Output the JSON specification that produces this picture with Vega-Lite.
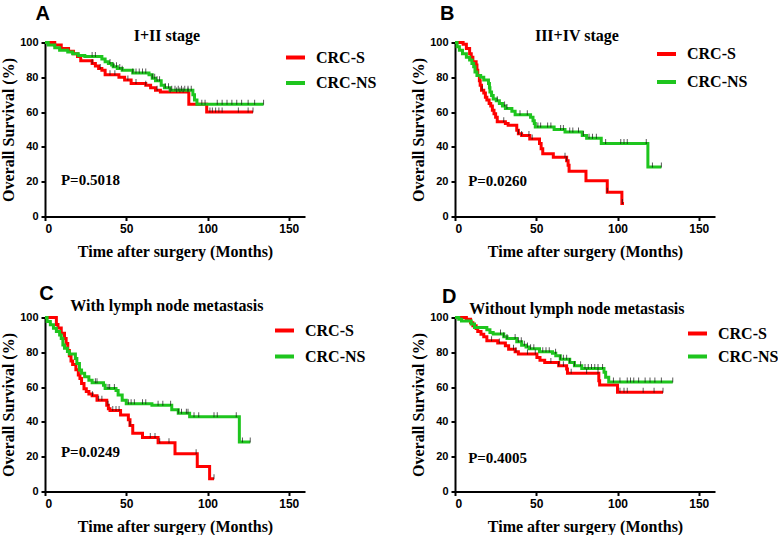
{
  "$schema": "https://vega.github.io/schema/vega-lite/v6.json",
  "padding": {"left": 0, "top": 3.5, "right": 0, "bottom": 0},
  "background": "white",
  "datasets": {
    "km": [
      {"p":"A","g":"CRC-S","t":0,"s":100},{"p":"A","g":"CRC-S","t":6,"s":98.5},{"p":"A","g":"CRC-S","t":10,"s":96.5},{"p":"A","g":"CRC-S","t":14.5,"s":95},{"p":"A","g":"CRC-S","t":17.5,"s":93.5},{"p":"A","g":"CRC-S","t":20,"s":92},{"p":"A","g":"CRC-S","t":22,"s":89.5},{"p":"A","g":"CRC-S","t":29,"s":88},{"p":"A","g":"CRC-S","t":31,"s":86.5},{"p":"A","g":"CRC-S","t":33,"s":85},{"p":"A","g":"CRC-S","t":35,"s":84},{"p":"A","g":"CRC-S","t":37,"s":81.5},{"p":"A","g":"CRC-S","t":45.5,"s":80},{"p":"A","g":"CRC-S","t":49,"s":78.5},{"p":"A","g":"CRC-S","t":53,"s":76.5},{"p":"A","g":"CRC-S","t":62,"s":75.5},{"p":"A","g":"CRC-S","t":65,"s":74},{"p":"A","g":"CRC-S","t":68,"s":72.5},{"p":"A","g":"CRC-S","t":71,"s":71.5},{"p":"A","g":"CRC-S","t":88.5,"s":64.5},{"p":"A","g":"CRC-S","t":99.5,"s":60},{"p":"A","g":"CRC-S","t":128,"s":60},
      {"p":"A","g":"CRC-NS","t":0,"s":100},{"p":"A","g":"CRC-NS","t":2,"s":98.5},{"p":"A","g":"CRC-NS","t":6,"s":97},{"p":"A","g":"CRC-NS","t":9,"s":95.5},{"p":"A","g":"CRC-NS","t":14,"s":94.5},{"p":"A","g":"CRC-NS","t":17,"s":93.5},{"p":"A","g":"CRC-NS","t":20.5,"s":92.5},{"p":"A","g":"CRC-NS","t":24.5,"s":92},{"p":"A","g":"CRC-NS","t":35,"s":90.5},{"p":"A","g":"CRC-NS","t":37,"s":89},{"p":"A","g":"CRC-NS","t":39,"s":88},{"p":"A","g":"CRC-NS","t":41,"s":87},{"p":"A","g":"CRC-NS","t":42,"s":86},{"p":"A","g":"CRC-NS","t":44.5,"s":85},{"p":"A","g":"CRC-NS","t":47.5,"s":84},{"p":"A","g":"CRC-NS","t":54,"s":82.5},{"p":"A","g":"CRC-NS","t":64,"s":81.5},{"p":"A","g":"CRC-NS","t":66,"s":79.5},{"p":"A","g":"CRC-NS","t":68,"s":78},{"p":"A","g":"CRC-NS","t":71.5,"s":75.5},{"p":"A","g":"CRC-NS","t":73.5,"s":74},{"p":"A","g":"CRC-NS","t":77,"s":72.5},{"p":"A","g":"CRC-NS","t":91,"s":70},{"p":"A","g":"CRC-NS","t":92,"s":67},{"p":"A","g":"CRC-NS","t":93.5,"s":64.5},{"p":"A","g":"CRC-NS","t":134.5,"s":64.5},
      {"p":"B","g":"CRC-S","t":0,"s":100},{"p":"B","g":"CRC-S","t":5,"s":99},{"p":"B","g":"CRC-S","t":7,"s":96.5},{"p":"B","g":"CRC-S","t":9,"s":93.5},{"p":"B","g":"CRC-S","t":10,"s":91.5},{"p":"B","g":"CRC-S","t":11,"s":89},{"p":"B","g":"CRC-S","t":13,"s":87},{"p":"B","g":"CRC-S","t":13.5,"s":84},{"p":"B","g":"CRC-S","t":14,"s":81},{"p":"B","g":"CRC-S","t":15,"s":78},{"p":"B","g":"CRC-S","t":15.5,"s":75.5},{"p":"B","g":"CRC-S","t":16.3,"s":72.5},{"p":"B","g":"CRC-S","t":17.7,"s":71},{"p":"B","g":"CRC-S","t":18.7,"s":68.5},{"p":"B","g":"CRC-S","t":19.6,"s":67},{"p":"B","g":"CRC-S","t":21,"s":65},{"p":"B","g":"CRC-S","t":22,"s":63.5},{"p":"B","g":"CRC-S","t":23,"s":61},{"p":"B","g":"CRC-S","t":24,"s":59},{"p":"B","g":"CRC-S","t":25,"s":57},{"p":"B","g":"CRC-S","t":26,"s":54.5},{"p":"B","g":"CRC-S","t":31,"s":53.5},{"p":"B","g":"CRC-S","t":32.7,"s":52.5},{"p":"B","g":"CRC-S","t":38,"s":49.5},{"p":"B","g":"CRC-S","t":39,"s":47.5},{"p":"B","g":"CRC-S","t":41,"s":46.5},{"p":"B","g":"CRC-S","t":46,"s":44.5},{"p":"B","g":"CRC-S","t":52,"s":42},{"p":"B","g":"CRC-S","t":53,"s":39},{"p":"B","g":"CRC-S","t":54,"s":36},{"p":"B","g":"CRC-S","t":60.5,"s":34},{"p":"B","g":"CRC-S","t":68.7,"s":32},{"p":"B","g":"CRC-S","t":69.6,"s":29.5},{"p":"B","g":"CRC-S","t":70.2,"s":26},{"p":"B","g":"CRC-S","t":80.6,"s":20.5},{"p":"B","g":"CRC-S","t":93.7,"s":14},{"p":"B","g":"CRC-S","t":102.7,"s":7.5},{"p":"B","g":"CRC-S","t":104,"s":7.5},
      {"p":"B","g":"CRC-NS","t":0,"s":100},{"p":"B","g":"CRC-NS","t":1.3,"s":97.5},{"p":"B","g":"CRC-NS","t":2.7,"s":95.5},{"p":"B","g":"CRC-NS","t":4.6,"s":93.5},{"p":"B","g":"CRC-NS","t":7,"s":91.5},{"p":"B","g":"CRC-NS","t":9,"s":90},{"p":"B","g":"CRC-NS","t":10.4,"s":88},{"p":"B","g":"CRC-NS","t":11.5,"s":86},{"p":"B","g":"CRC-NS","t":12.3,"s":83},{"p":"B","g":"CRC-NS","t":13.5,"s":81},{"p":"B","g":"CRC-NS","t":15.8,"s":80},{"p":"B","g":"CRC-NS","t":17.7,"s":78.5},{"p":"B","g":"CRC-NS","t":20.6,"s":76.5},{"p":"B","g":"CRC-NS","t":21.2,"s":74},{"p":"B","g":"CRC-NS","t":21.5,"s":71.5},{"p":"B","g":"CRC-NS","t":22.5,"s":69.5},{"p":"B","g":"CRC-NS","t":23.5,"s":67.5},{"p":"B","g":"CRC-NS","t":25.4,"s":66.5},{"p":"B","g":"CRC-NS","t":27.3,"s":65},{"p":"B","g":"CRC-NS","t":29.2,"s":63.5},{"p":"B","g":"CRC-NS","t":31,"s":62},{"p":"B","g":"CRC-NS","t":35,"s":60.5},{"p":"B","g":"CRC-NS","t":37,"s":58.5},{"p":"B","g":"CRC-NS","t":46.5,"s":57},{"p":"B","g":"CRC-NS","t":48,"s":55},{"p":"B","g":"CRC-NS","t":48.8,"s":53.5},{"p":"B","g":"CRC-NS","t":49.4,"s":51.5},{"p":"B","g":"CRC-NS","t":61,"s":50},{"p":"B","g":"CRC-NS","t":67.7,"s":48.5},{"p":"B","g":"CRC-NS","t":78.3,"s":46.5},{"p":"B","g":"CRC-NS","t":81,"s":45},{"p":"B","g":"CRC-NS","t":90,"s":42},{"p":"B","g":"CRC-NS","t":118.7,"s":28.5},{"p":"B","g":"CRC-NS","t":127,"s":28.5},
      {"p":"C","g":"CRC-S","t":0,"s":100},{"p":"C","g":"CRC-S","t":7,"s":96},{"p":"C","g":"CRC-S","t":8,"s":94},{"p":"C","g":"CRC-S","t":10,"s":91},{"p":"C","g":"CRC-S","t":12,"s":88},{"p":"C","g":"CRC-S","t":13,"s":85},{"p":"C","g":"CRC-S","t":14,"s":81},{"p":"C","g":"CRC-S","t":15,"s":78},{"p":"C","g":"CRC-S","t":16,"s":75},{"p":"C","g":"CRC-S","t":17,"s":73},{"p":"C","g":"CRC-S","t":19,"s":70},{"p":"C","g":"CRC-S","t":20.5,"s":67},{"p":"C","g":"CRC-S","t":21.5,"s":65},{"p":"C","g":"CRC-S","t":22.5,"s":62},{"p":"C","g":"CRC-S","t":24,"s":59},{"p":"C","g":"CRC-S","t":25.4,"s":57.5},{"p":"C","g":"CRC-S","t":27,"s":56},{"p":"C","g":"CRC-S","t":29,"s":55},{"p":"C","g":"CRC-S","t":32,"s":52.5},{"p":"C","g":"CRC-S","t":38,"s":49.5},{"p":"C","g":"CRC-S","t":39,"s":47.5},{"p":"C","g":"CRC-S","t":40,"s":46.5},{"p":"C","g":"CRC-S","t":46.5,"s":44},{"p":"C","g":"CRC-S","t":51.3,"s":41.3},{"p":"C","g":"CRC-S","t":52.3,"s":38},{"p":"C","g":"CRC-S","t":54,"s":33.5},{"p":"C","g":"CRC-S","t":60,"s":31},{"p":"C","g":"CRC-S","t":69.6,"s":28},{"p":"C","g":"CRC-S","t":80,"s":21.7},{"p":"C","g":"CRC-S","t":93.7,"s":14.4},{"p":"C","g":"CRC-S","t":101.3,"s":7.3},{"p":"C","g":"CRC-S","t":104,"s":7.3},
      {"p":"C","g":"CRC-NS","t":0,"s":100},{"p":"C","g":"CRC-NS","t":1.3,"s":97.7},{"p":"C","g":"CRC-NS","t":3.3,"s":95.8},{"p":"C","g":"CRC-NS","t":5.2,"s":93.8},{"p":"C","g":"CRC-NS","t":7,"s":92},{"p":"C","g":"CRC-NS","t":9,"s":90},{"p":"C","g":"CRC-NS","t":10,"s":88},{"p":"C","g":"CRC-NS","t":11,"s":84.2},{"p":"C","g":"CRC-NS","t":12,"s":82.3},{"p":"C","g":"CRC-NS","t":13.8,"s":80.4},{"p":"C","g":"CRC-NS","t":15,"s":79},{"p":"C","g":"CRC-NS","t":18.7,"s":76.5},{"p":"C","g":"CRC-NS","t":19.6,"s":73.6},{"p":"C","g":"CRC-NS","t":21.2,"s":69.8},{"p":"C","g":"CRC-NS","t":22.5,"s":68},{"p":"C","g":"CRC-NS","t":24.4,"s":66},{"p":"C","g":"CRC-NS","t":27,"s":64},{"p":"C","g":"CRC-NS","t":29,"s":62.5},{"p":"C","g":"CRC-NS","t":36,"s":61},{"p":"C","g":"CRC-NS","t":37,"s":59.2},{"p":"C","g":"CRC-NS","t":43.7,"s":58},{"p":"C","g":"CRC-NS","t":45,"s":55.5},{"p":"C","g":"CRC-NS","t":47.5,"s":52.5},{"p":"C","g":"CRC-NS","t":50,"s":50.5},{"p":"C","g":"CRC-NS","t":65.8,"s":49.5},{"p":"C","g":"CRC-NS","t":78,"s":47},{"p":"C","g":"CRC-NS","t":82,"s":45},{"p":"C","g":"CRC-NS","t":89,"s":43},{"p":"C","g":"CRC-NS","t":119.6,"s":28.5},{"p":"C","g":"CRC-NS","t":126.3,"s":28.5},
      {"p":"D","g":"CRC-S","t":0,"s":100},{"p":"D","g":"CRC-S","t":7,"s":99},{"p":"D","g":"CRC-S","t":9.6,"s":97},{"p":"D","g":"CRC-S","t":11,"s":95.2},{"p":"D","g":"CRC-S","t":13,"s":93.7},{"p":"D","g":"CRC-S","t":14,"s":92},{"p":"D","g":"CRC-S","t":16,"s":90.4},{"p":"D","g":"CRC-S","t":17.7,"s":89},{"p":"D","g":"CRC-S","t":19.6,"s":86.6},{"p":"D","g":"CRC-S","t":26.3,"s":85.3},{"p":"D","g":"CRC-S","t":31,"s":83.7},{"p":"D","g":"CRC-S","t":33,"s":81.8},{"p":"D","g":"CRC-S","t":37,"s":80.3},{"p":"D","g":"CRC-S","t":39,"s":79},{"p":"D","g":"CRC-S","t":50.4,"s":77},{"p":"D","g":"CRC-S","t":52.3,"s":75.5},{"p":"D","g":"CRC-S","t":55.2,"s":74.2},{"p":"D","g":"CRC-S","t":63.8,"s":72.3},{"p":"D","g":"CRC-S","t":68.7,"s":70.4},{"p":"D","g":"CRC-S","t":69.2,"s":68},{"p":"D","g":"CRC-S","t":88.5,"s":63.7},{"p":"D","g":"CRC-S","t":89,"s":61.2},{"p":"D","g":"CRC-S","t":100,"s":57},{"p":"D","g":"CRC-S","t":128,"s":57},
      {"p":"D","g":"CRC-NS","t":0,"s":100},{"p":"D","g":"CRC-NS","t":2.3,"s":99},{"p":"D","g":"CRC-NS","t":4,"s":98},{"p":"D","g":"CRC-NS","t":10,"s":96.2},{"p":"D","g":"CRC-NS","t":12,"s":94.3},{"p":"D","g":"CRC-NS","t":19.6,"s":93},{"p":"D","g":"CRC-NS","t":21.5,"s":91.4},{"p":"D","g":"CRC-NS","t":23.5,"s":90.5},{"p":"D","g":"CRC-NS","t":30,"s":89},{"p":"D","g":"CRC-NS","t":32,"s":88},{"p":"D","g":"CRC-NS","t":38,"s":86},{"p":"D","g":"CRC-NS","t":41,"s":84},{"p":"D","g":"CRC-NS","t":43.7,"s":83},{"p":"D","g":"CRC-NS","t":45.6,"s":82},{"p":"D","g":"CRC-NS","t":52,"s":80.3},{"p":"D","g":"CRC-NS","t":60,"s":79.5},{"p":"D","g":"CRC-NS","t":62,"s":78},{"p":"D","g":"CRC-NS","t":64.8,"s":76},{"p":"D","g":"CRC-NS","t":70.6,"s":74.2},{"p":"D","g":"CRC-NS","t":73.5,"s":72.3},{"p":"D","g":"CRC-NS","t":78,"s":70.7},{"p":"D","g":"CRC-NS","t":91.7,"s":68.5},{"p":"D","g":"CRC-NS","t":92.7,"s":65.6},{"p":"D","g":"CRC-NS","t":94.6,"s":63},{"p":"D","g":"CRC-NS","t":134,"s":63}
    ],
    "cens": [
      {"p":"A","t":29,"s":88},{"p":"A","t":34,"s":85},{"p":"A","t":40,"s":81.5},{"p":"A","t":43,"s":81.5},{"p":"A","t":51,"s":78.5},{"p":"A","t":56,"s":76.5},{"p":"A","t":62,"s":75.5},{"p":"A","t":69,"s":72.5},{"p":"A","t":77,"s":71.5},{"p":"A","t":81,"s":71.5},{"p":"A","t":83,"s":71.5},{"p":"A","t":85,"s":71.5},{"p":"A","t":88,"s":71.5},{"p":"A","t":101.5,"s":60},{"p":"A","t":103,"s":60},{"p":"A","t":105,"s":60},{"p":"A","t":107,"s":60},{"p":"A","t":109,"s":60},{"p":"A","t":119,"s":60},{"p":"A","t":125,"s":60},{"p":"A","t":128,"s":60},
      {"p":"A","t":29,"s":92},{"p":"A","t":31,"s":92},{"p":"A","t":40,"s":88},{"p":"A","t":42,"s":86},{"p":"A","t":44,"s":86},{"p":"A","t":46,"s":85},{"p":"A","t":47.5,"s":84},{"p":"A","t":54,"s":82.5},{"p":"A","t":56,"s":82.5},{"p":"A","t":58,"s":82.5},{"p":"A","t":60,"s":82.5},{"p":"A","t":62,"s":82.5},{"p":"A","t":66,"s":79.5},{"p":"A","t":67.5,"s":79.5},{"p":"A","t":69,"s":78},{"p":"A","t":70.5,"s":78},{"p":"A","t":74,"s":74},{"p":"A","t":76,"s":74},{"p":"A","t":78,"s":72.5},{"p":"A","t":80,"s":72.5},{"p":"A","t":82,"s":72.5},{"p":"A","t":84,"s":72.5},{"p":"A","t":86,"s":72.5},{"p":"A","t":88,"s":72.5},{"p":"A","t":90,"s":72.5},{"p":"A","t":96.5,"s":64.5},{"p":"A","t":98.5,"s":64.5},{"p":"A","t":106,"s":64.5},{"p":"A","t":109,"s":64.5},{"p":"A","t":112,"s":64.5},{"p":"A","t":115,"s":64.5},{"p":"A","t":118,"s":64.5},{"p":"A","t":121,"s":64.5},{"p":"A","t":125,"s":64.5},{"p":"A","t":129,"s":64.5},{"p":"A","t":134.5,"s":64.5},
      {"p":"B","t":16.7,"s":72.5},{"p":"B","t":30,"s":54.5},{"p":"B","t":39,"s":47.5},{"p":"B","t":41,"s":46.5},{"p":"B","t":45.5,"s":46.5},{"p":"B","t":47.5,"s":44.5},{"p":"B","t":67.7,"s":34},{"p":"B","t":68.7,"s":32},{"p":"B","t":93.7,"s":14},{"p":"B","t":103,"s":7.5},
      {"p":"B","t":26,"s":66.5},{"p":"B","t":30.5,"s":63.5},{"p":"B","t":32,"s":62},{"p":"B","t":40,"s":58.5},{"p":"B","t":44.5,"s":58.5},{"p":"B","t":51,"s":51.5},{"p":"B","t":52.7,"s":51.5},{"p":"B","t":57,"s":51.5},{"p":"B","t":59,"s":51.5},{"p":"B","t":65,"s":50},{"p":"B","t":66.7,"s":50},{"p":"B","t":70.6,"s":48.5},{"p":"B","t":72.5,"s":48.5},{"p":"B","t":76,"s":48.5},{"p":"B","t":79,"s":46.5},{"p":"B","t":82.5,"s":45},{"p":"B","t":84.6,"s":45},{"p":"B","t":87,"s":45},{"p":"B","t":92.7,"s":42},{"p":"B","t":102,"s":42},{"p":"B","t":104,"s":42},{"p":"B","t":106,"s":42},{"p":"B","t":117.7,"s":42},{"p":"B","t":121.5,"s":28.5},{"p":"B","t":127,"s":28.5},
      {"p":"C","t":29.2,"s":55},{"p":"C","t":33,"s":52.5},{"p":"C","t":35,"s":52.5},{"p":"C","t":38.8,"s":49.5},{"p":"C","t":41.7,"s":46.5},{"p":"C","t":43.7,"s":46.5},{"p":"C","t":45.6,"s":46.5},{"p":"C","t":52.3,"s":38},{"p":"C","t":64.8,"s":31},{"p":"C","t":67.7,"s":31},{"p":"C","t":70.6,"s":28},{"p":"C","t":76.3,"s":28},{"p":"C","t":93,"s":21.7},{"p":"C","t":104,"s":7.3},
      {"p":"C","t":31,"s":62.5},{"p":"C","t":32,"s":62.5},{"p":"C","t":38.8,"s":59.2},{"p":"C","t":39.8,"s":59.2},{"p":"C","t":42.7,"s":59.2},{"p":"C","t":51.3,"s":50.5},{"p":"C","t":53,"s":50.5},{"p":"C","t":55,"s":50.5},{"p":"C","t":60,"s":50.5},{"p":"C","t":62,"s":50.5},{"p":"C","t":69.6,"s":49.5},{"p":"C","t":72.5,"s":49.5},{"p":"C","t":77.3,"s":49.5},{"p":"C","t":82,"s":45},{"p":"C","t":84,"s":45},{"p":"C","t":87,"s":45},{"p":"C","t":88,"s":45},{"p":"C","t":91.7,"s":43},{"p":"C","t":94.6,"s":43},{"p":"C","t":104,"s":43},{"p":"C","t":106,"s":43},{"p":"C","t":117.7,"s":43},{"p":"C","t":121.5,"s":28.5},{"p":"C","t":126.3,"s":28.5},
      {"p":"D","t":22.5,"s":86.6},{"p":"D","t":27.3,"s":85.3},{"p":"D","t":36,"s":81.8},{"p":"D","t":37.5,"s":80.3},{"p":"D","t":44.6,"s":79},{"p":"D","t":49.4,"s":79},{"p":"D","t":59,"s":74.2},{"p":"D","t":63.8,"s":72.3},{"p":"D","t":66.7,"s":72.3},{"p":"D","t":71.5,"s":68},{"p":"D","t":81,"s":68},{"p":"D","t":88,"s":68},{"p":"D","t":101.5,"s":57},{"p":"D","t":104,"s":57},{"p":"D","t":106,"s":57},{"p":"D","t":115.8,"s":57},{"p":"D","t":122.5,"s":57},{"p":"D","t":128,"s":57},
      {"p":"D","t":28,"s":90.5},{"p":"D","t":30,"s":89},{"p":"D","t":32,"s":88},{"p":"D","t":37,"s":88},{"p":"D","t":39,"s":86},{"p":"D","t":40.8,"s":86},{"p":"D","t":42.7,"s":84},{"p":"D","t":44.6,"s":83},{"p":"D","t":46.5,"s":82},{"p":"D","t":48.5,"s":82},{"p":"D","t":54,"s":80.3},{"p":"D","t":56,"s":80.3},{"p":"D","t":58,"s":80.3},{"p":"D","t":61.9,"s":79.5},{"p":"D","t":64.8,"s":76},{"p":"D","t":66.7,"s":76},{"p":"D","t":68.7,"s":76},{"p":"D","t":70.6,"s":74.2},{"p":"D","t":73.5,"s":72.3},{"p":"D","t":77.3,"s":72.3},{"p":"D","t":80,"s":70.7},{"p":"D","t":82,"s":70.7},{"p":"D","t":84,"s":70.7},{"p":"D","t":86,"s":70.7},{"p":"D","t":88,"s":70.7},{"p":"D","t":90.8,"s":70.7},{"p":"D","t":97.5,"s":63},{"p":"D","t":101.5,"s":63},{"p":"D","t":106,"s":63},{"p":"D","t":108,"s":63},{"p":"D","t":110,"s":63},{"p":"D","t":113,"s":63},{"p":"D","t":117,"s":63},{"p":"D","t":120,"s":63},{"p":"D","t":123,"s":63},{"p":"D","t":127,"s":63},{"p":"D","t":134,"s":63}
    ],
    "notes": [
      {"p":"A","pv":"P=0.5018","ttl":"I+II stage"},
      {"p":"B","pv":"P=0.0260","ttl":"III+IV stage"},
      {"p":"C","pv":"P=0.0249","ttl":"With lymph node metastasis"},
      {"p":"D","pv":"P=0.4005","ttl":"Without lymph node metastasis"}
    ]
  },
  "columns": 2,
  "spacing": {"row": 24, "column": 33},
  "resolve": {"scale": {"color": "independent"}, "legend": {"color": "independent"}},
  "concat": [
    {
      "width": 260, "height": 174,
      "layer": [
        {"data": {"name": "km"}, "transform": [{"filter": "datum.p == 'A'"}],
         "mark": {"type": "line", "interpolate": "step-after", "strokeWidth": 3},
         "encoding": {
           "x": {"field": "t", "type": "quantitative", "scale": {"domain": [0, 150]}, "axis": {"values": [0, 50, 100, 150], "labelOverlap": false, "title": "Time after surgery (Months)"}},
           "y": {"field": "s", "type": "quantitative", "scale": {"domain": [0, 100]}, "axis": {"values": [0, 20, 40, 60, 80, 100], "labelOverlap": false, "title": "Overall Survival (%)"}},
           "color": {"field": "g", "type": "nominal", "scale": {"domain": ["CRC-S", "CRC-NS"], "range": ["#ff0000", "#1ec51e"]}, "legend": {"orient": "none", "legendX": 239, "legendY": 3.5, "rowPadding": 5.5}}
         }},
        {"data": {"name": "cens"}, "transform": [{"filter": "datum.p == 'A'"}],
         "mark": {"type": "tick", "orient": "vertical", "color": "#111", "size": 5, "thickness": 1, "yOffset": -2},
         "encoding": {
           "x": {"field": "t", "type": "quantitative", "axis": {"values": [0, 50, 100, 150], "labelOverlap": false, "title": "Time after surgery (Months)"}},
           "y": {"field": "s", "type": "quantitative", "axis": {"values": [0, 20, 40, 60, 80, 100], "labelOverlap": false, "title": "Overall Survival (%)"}}}},
        {"data": {"name": "notes"}, "transform": [{"filter": "datum.p == 'A'"}],
         "mark": {"type": "text", "align": "left", "baseline": "alphabetic", "font": "Liberation Serif", "fontSize": 15, "fontWeight": "bold", "color": "black"},
         "encoding": {
           "x": {"datum": 9.8, "type": "quantitative", "axis": {"values": [0, 50, 100, 150], "labelOverlap": false, "title": "Time after surgery (Months)"}},
           "y": {"datum": 18.2, "type": "quantitative", "axis": {"values": [0, 20, 40, 60, 80, 100], "labelOverlap": false, "title": "Overall Survival (%)"}},
           "text": {"field": "pv"}}},
        {"data": {"name": "notes"}, "transform": [{"filter": "datum.p == 'A'"}],
         "mark": {"type": "text", "align": "center", "baseline": "alphabetic", "font": "Liberation Serif", "fontSize": 16, "fontWeight": "bold", "color": "black"},
         "encoding": {
           "x": {"datum": 75, "type": "quantitative", "axis": {"values": [0, 50, 100, 150], "labelOverlap": false, "title": "Time after surgery (Months)"}},
           "y": {"datum": 101.1, "type": "quantitative", "axis": {"values": [0, 20, 40, 60, 80, 100], "labelOverlap": false, "title": "Overall Survival (%)"}},
           "text": {"field": "ttl"}}},
        {"data": {"name": "notes"}, "transform": [{"filter": "datum.p == 'A'"}],
         "mark": {"type": "text", "align": "left", "baseline": "alphabetic", "font": "Liberation Sans", "fontSize": 20, "fontWeight": "bold", "color": "black"},
         "encoding": {
           "x": {"datum": -5.8, "type": "quantitative", "axis": {"values": [0, 50, 100, 150], "labelOverlap": false, "title": "Time after surgery (Months)"}},
           "y": {"datum": 113, "type": "quantitative", "axis": {"values": [0, 20, 40, 60, 80, 100], "labelOverlap": false, "title": "Overall Survival (%)"}},
           "text": {"field": "p"}}}
      ]
    },
    {
      "width": 260, "height": 174,
      "layer": [
        {"data": {"name": "km"}, "transform": [{"filter": "datum.p == 'B'"}],
         "mark": {"type": "line", "interpolate": "step-after", "strokeWidth": 3},
         "encoding": {
           "x": {"field": "t", "type": "quantitative", "scale": {"domain": [0, 150]}, "axis": {"values": [0, 50, 100, 150], "labelOverlap": false, "title": "Time after surgery (Months)"}},
           "y": {"field": "s", "type": "quantitative", "scale": {"domain": [0, 100]}, "axis": {"values": [0, 20, 40, 60, 80, 100], "labelOverlap": false, "title": "Overall Survival (%)"}},
           "color": {"field": "g", "type": "nominal", "scale": {"domain": ["CRC-S", "CRC-NS"], "range": ["#ff0000", "#1ec51e"]}, "legend": {"orient": "none", "legendX": 200, "legendY": 0, "rowPadding": 8}}
         }},
        {"data": {"name": "cens"}, "transform": [{"filter": "datum.p == 'B'"}],
         "mark": {"type": "tick", "orient": "vertical", "color": "#111", "size": 5, "thickness": 1, "yOffset": -2},
         "encoding": {
           "x": {"field": "t", "type": "quantitative", "axis": {"values": [0, 50, 100, 150], "labelOverlap": false, "title": "Time after surgery (Months)"}},
           "y": {"field": "s", "type": "quantitative", "axis": {"values": [0, 20, 40, 60, 80, 100], "labelOverlap": false, "title": "Overall Survival (%)"}}}},
        {"data": {"name": "notes"}, "transform": [{"filter": "datum.p == 'B'"}],
         "mark": {"type": "text", "align": "left", "baseline": "alphabetic", "font": "Liberation Serif", "fontSize": 15, "fontWeight": "bold", "color": "black"},
         "encoding": {
           "x": {"datum": 8.1, "type": "quantitative", "axis": {"values": [0, 50, 100, 150], "labelOverlap": false, "title": "Time after surgery (Months)"}},
           "y": {"datum": 17.5, "type": "quantitative", "axis": {"values": [0, 20, 40, 60, 80, 100], "labelOverlap": false, "title": "Overall Survival (%)"}},
           "text": {"field": "pv"}}},
        {"data": {"name": "notes"}, "transform": [{"filter": "datum.p == 'B'"}],
         "mark": {"type": "text", "align": "center", "baseline": "alphabetic", "font": "Liberation Serif", "fontSize": 16, "fontWeight": "bold", "color": "black"},
         "encoding": {
           "x": {"datum": 75, "type": "quantitative", "axis": {"values": [0, 50, 100, 150], "labelOverlap": false, "title": "Time after surgery (Months)"}},
           "y": {"datum": 101, "type": "quantitative", "axis": {"values": [0, 20, 40, 60, 80, 100], "labelOverlap": false, "title": "Overall Survival (%)"}},
           "text": {"field": "ttl"}}},
        {"data": {"name": "notes"}, "transform": [{"filter": "datum.p == 'B'"}],
         "mark": {"type": "text", "align": "left", "baseline": "alphabetic", "font": "Liberation Sans", "fontSize": 20, "fontWeight": "bold", "color": "black"},
         "encoding": {
           "x": {"datum": -9.2, "type": "quantitative", "axis": {"values": [0, 50, 100, 150], "labelOverlap": false, "title": "Time after surgery (Months)"}},
           "y": {"datum": 112.8, "type": "quantitative", "axis": {"values": [0, 20, 40, 60, 80, 100], "labelOverlap": false, "title": "Overall Survival (%)"}},
           "text": {"field": "p"}}}
      ]
    },
    {
      "width": 260, "height": 174,
      "layer": [
        {"data": {"name": "km"}, "transform": [{"filter": "datum.p == 'C'"}],
         "mark": {"type": "line", "interpolate": "step-after", "strokeWidth": 3},
         "encoding": {
           "x": {"field": "t", "type": "quantitative", "scale": {"domain": [0, 150]}, "axis": {"values": [0, 50, 100, 150], "labelOverlap": false, "title": "Time after surgery (Months)"}},
           "y": {"field": "s", "type": "quantitative", "scale": {"domain": [0, 100]}, "axis": {"values": [0, 20, 40, 60, 80, 100], "labelOverlap": false, "title": "Overall Survival (%)"}},
           "color": {"field": "g", "type": "nominal", "scale": {"domain": ["CRC-S", "CRC-NS"], "range": ["#ff0000", "#1ec51e"]}, "legend": {"orient": "none", "legendX": 228, "legendY": 1.5, "rowPadding": 6}}
         }},
        {"data": {"name": "cens"}, "transform": [{"filter": "datum.p == 'C'"}],
         "mark": {"type": "tick", "orient": "vertical", "color": "#111", "size": 5, "thickness": 1, "yOffset": -2},
         "encoding": {
           "x": {"field": "t", "type": "quantitative", "axis": {"values": [0, 50, 100, 150], "labelOverlap": false, "title": "Time after surgery (Months)"}},
           "y": {"field": "s", "type": "quantitative", "axis": {"values": [0, 20, 40, 60, 80, 100], "labelOverlap": false, "title": "Overall Survival (%)"}}}},
        {"data": {"name": "notes"}, "transform": [{"filter": "datum.p == 'C'"}],
         "mark": {"type": "text", "align": "left", "baseline": "alphabetic", "font": "Liberation Serif", "fontSize": 15, "fontWeight": "bold", "color": "black"},
         "encoding": {
           "x": {"datum": 9.8, "type": "quantitative", "axis": {"values": [0, 50, 100, 150], "labelOverlap": false, "title": "Time after surgery (Months)"}},
           "y": {"datum": 19.8, "type": "quantitative", "axis": {"values": [0, 20, 40, 60, 80, 100], "labelOverlap": false, "title": "Overall Survival (%)"}},
           "text": {"field": "pv"}}},
        {"data": {"name": "notes"}, "transform": [{"filter": "datum.p == 'C'"}],
         "mark": {"type": "text", "align": "center", "baseline": "alphabetic", "font": "Liberation Serif", "fontSize": 16, "fontWeight": "bold", "color": "black"},
         "encoding": {
           "x": {"datum": 75, "type": "quantitative", "axis": {"values": [0, 50, 100, 150], "labelOverlap": false, "title": "Time after surgery (Months)"}},
           "y": {"datum": 103.7, "type": "quantitative", "axis": {"values": [0, 20, 40, 60, 80, 100], "labelOverlap": false, "title": "Overall Survival (%)"}},
           "text": {"field": "ttl"}}},
        {"data": {"name": "notes"}, "transform": [{"filter": "datum.p == 'C'"}],
         "mark": {"type": "text", "align": "left", "baseline": "alphabetic", "font": "Liberation Sans", "fontSize": 20, "fontWeight": "bold", "color": "black"},
         "encoding": {
           "x": {"datum": -3.5, "type": "quantitative", "axis": {"values": [0, 50, 100, 150], "labelOverlap": false, "title": "Time after surgery (Months)"}},
           "y": {"datum": 110, "type": "quantitative", "axis": {"values": [0, 20, 40, 60, 80, 100], "labelOverlap": false, "title": "Overall Survival (%)"}},
           "text": {"field": "p"}}}
      ]
    },
    {
      "width": 260, "height": 174,
      "layer": [
        {"data": {"name": "km"}, "transform": [{"filter": "datum.p == 'D'"}],
         "mark": {"type": "line", "interpolate": "step-after", "strokeWidth": 3},
         "encoding": {
           "x": {"field": "t", "type": "quantitative", "scale": {"domain": [0, 150]}, "axis": {"values": [0, 50, 100, 150], "labelOverlap": false, "title": "Time after surgery (Months)"}},
           "y": {"field": "s", "type": "quantitative", "scale": {"domain": [0, 100]}, "axis": {"values": [0, 20, 40, 60, 80, 100], "labelOverlap": false, "title": "Overall Survival (%)"}},
           "color": {"field": "g", "type": "nominal", "scale": {"domain": ["CRC-S", "CRC-NS"], "range": ["#ff0000", "#1ec51e"]}, "legend": {"orient": "none", "legendX": 231, "legendY": 4.5, "rowPadding": 3}}
         }},
        {"data": {"name": "cens"}, "transform": [{"filter": "datum.p == 'D'"}],
         "mark": {"type": "tick", "orient": "vertical", "color": "#111", "size": 5, "thickness": 1, "yOffset": -2},
         "encoding": {
           "x": {"field": "t", "type": "quantitative", "axis": {"values": [0, 50, 100, 150], "labelOverlap": false, "title": "Time after surgery (Months)"}},
           "y": {"field": "s", "type": "quantitative", "axis": {"values": [0, 20, 40, 60, 80, 100], "labelOverlap": false, "title": "Overall Survival (%)"}}}},
        {"data": {"name": "notes"}, "transform": [{"filter": "datum.p == 'D'"}],
         "mark": {"type": "text", "align": "left", "baseline": "alphabetic", "font": "Liberation Serif", "fontSize": 15, "fontWeight": "bold", "color": "black"},
         "encoding": {
           "x": {"datum": 8.1, "type": "quantitative", "axis": {"values": [0, 50, 100, 150], "labelOverlap": false, "title": "Time after surgery (Months)"}},
           "y": {"datum": 16.4, "type": "quantitative", "axis": {"values": [0, 20, 40, 60, 80, 100], "labelOverlap": false, "title": "Overall Survival (%)"}},
           "text": {"field": "pv"}}},
        {"data": {"name": "notes"}, "transform": [{"filter": "datum.p == 'D'"}],
         "mark": {"type": "text", "align": "center", "baseline": "alphabetic", "font": "Liberation Serif", "fontSize": 16, "fontWeight": "bold", "color": "black"},
         "encoding": {
           "x": {"datum": 75, "type": "quantitative", "axis": {"values": [0, 50, 100, 150], "labelOverlap": false, "title": "Time after surgery (Months)"}},
           "y": {"datum": 102, "type": "quantitative", "axis": {"values": [0, 20, 40, 60, 80, 100], "labelOverlap": false, "title": "Overall Survival (%)"}},
           "text": {"field": "ttl"}}},
        {"data": {"name": "notes"}, "transform": [{"filter": "datum.p == 'D'"}],
         "mark": {"type": "text", "align": "left", "baseline": "alphabetic", "font": "Liberation Sans", "fontSize": 20, "fontWeight": "bold", "color": "black"},
         "encoding": {
           "x": {"datum": -8, "type": "quantitative", "axis": {"values": [0, 50, 100, 150], "labelOverlap": false, "title": "Time after surgery (Months)"}},
           "y": {"datum": 108.3, "type": "quantitative", "axis": {"values": [0, 20, 40, 60, 80, 100], "labelOverlap": false, "title": "Overall Survival (%)"}},
           "text": {"field": "p"}}}
      ]
    }
  ],
  "config": {
    "view": {"stroke": null},
    "axis": {"grid": false, "labelOverlap": false, "domainColor": "black", "domainWidth": 2, "tickColor": "black", "tickWidth": 2, "tickSize": 4, "labelFont": "Liberation Sans", "labelFontSize": 11, "labelFontWeight": "bold", "labelColor": "black", "labelPadding": 3, "titleFont": "Liberation Serif", "titleFontSize": 16, "titleFontWeight": "bold", "titleColor": "black"},
    "axisX": {"titlePadding": 9, "labelFontSize": 12},
    "axisY": {"titlePadding": 3},
    "legend": {"title": null, "padding": 0, "labelFont": "Liberation Serif", "labelFontSize": 16, "labelFontWeight": "bold", "labelColor": "black", "symbolType": "stroke", "symbolStrokeWidth": 4, "symbolSize": 361, "labelOffset": 9}
  }
}
